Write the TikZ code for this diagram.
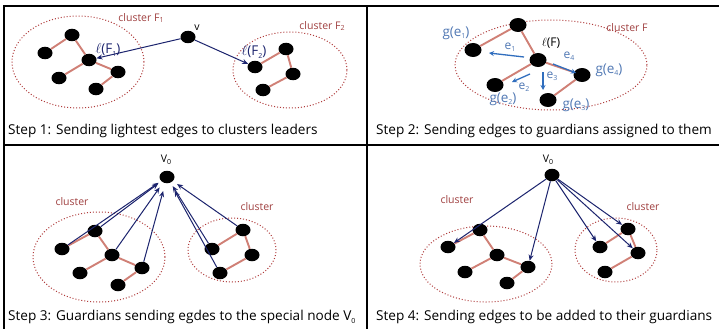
\documentclass[tikz,border=0pt]{standalone}
\usepackage{fontspec}
\setmainfont{Open Sans}
\usetikzlibrary{shapes.geometric,arrows.meta}
\definecolor{treec}{RGB}{208,128,118}
\definecolor{clusc}{RGB}{176,60,60}
\definecolor{labc}{RGB}{160,64,64}
\definecolor{navyc}{RGB}{28,36,110}
\definecolor{bluec}{RGB}{48,110,190}
\definecolor{glab}{RGB}{80,120,180}
\newcommand{\mysb}[1]{\raisebox{-0.35ex}{\scriptsize #1}}
\tikzset{
  vtx/.style={ellipse, fill=black, minimum width=15pt, minimum height=12.5pt, inner sep=0pt},
  bigvtx/.style={ellipse, fill=black, minimum width=17pt, minimum height=14pt, inner sep=0pt},
  tree/.style={draw=treec, line width=1.9pt},
  clus/.style={ellipse, draw=clusc, dotted, line width=1pt, inner sep=0pt},
  clab/.style={text=labc, font=\fontsize{10.5}{12}\selectfont, inner sep=0pt},
  navy/.style={draw=navyc, line width=1pt, -{Stealth[length=6pt,width=5pt]}},
  bluea/.style={draw=bluec, line width=1.3pt, -{Stealth[length=5pt,width=5pt]}},
  glabel/.style={text=glab, font=\fontsize{13.5}{15}\selectfont, inner sep=0pt},
  elabel/.style={text=glab, font=\fontsize{12}{14}\selectfont, inner sep=0pt},
  steptext/.style={anchor=west, font=\fontsize{13.6}{15}\selectfont, inner sep=0pt},
  grid/.style={draw=black, line width=1.1pt}
}
\begin{document}
\begin{tikzpicture}[x=1pt,y=-1pt]
\useasboundingbox (0,0) rectangle (719,329);
\fill[white] (0,0) rectangle (719,329);
% table grid
\coordinate (tl) at (4,6); \coordinate (tr) at (719,6);
\coordinate (ml) at (4,145); \coordinate (mr) at (719,145);
\coordinate (bl) at (4,329); \coordinate (vt) at (367,6); \coordinate (vb) at (367,329);
\draw[grid] (tr) -- (tl) -- (bl);
\draw[grid] (ml) -- (mr);
\draw[grid] (vt) -- (vb);

% ---------------- Panel 1 ----------------
\node[clus, minimum width=132pt, minimum height=92pt] (c1) at (78,62) {};
\node[clus, minimum width=114pt, minimum height=76pt] (c2) at (290,70) {};
\node[clab] (c1l) at (141,18) {cluster F\mysb{1}};
\node[clab] (c2l) at (322,26) {cluster F\mysb{2}};
\node[vtx] (p1a) at (72,35) {};
\node[vtx] (p1b) at (45,53) {};
\node[vtx] (p1c) at (89,60) {};
\node[vtx] (p1d) at (118,72) {};
\node[vtx] (p1e) at (59,78) {};
\node[vtx] (p1f) at (96,89) {};
\draw[tree] (p1b) -- (p1a) -- (p1c) -- (p1d) -- (p1f);
\draw[tree] (p1c) -- (p1e);
\node[vtx] (p1g) at (255,67) {};
\node[vtx] (p1h) at (286,49) {};
\node[vtx] (p1i) at (293,74) {};
\node[vtx] (p1j) at (263,90) {};
\draw[tree] (p1g) -- (p1h) -- (p1i) -- (p1j);
\node[vtx] (v) at (188,37) {};
\node[inner sep=0pt, font=\fontsize{10.5}{12}\selectfont] (vl) at (197,28) {v};
\node[inner sep=0pt, text=navyc, font=\fontsize{13.5}{15}\selectfont] (lf1) at (108,50) {$\ell$(F\mysb{1})};
\node[inner sep=0pt, text=navyc, font=\fontsize{13.5}{15}\selectfont] (lf2) at (254,52) {$\ell$(F\mysb{2})};
\draw[navy] (v) -- (p1c);
\draw[navy] (v) -- (p1g);
\node[steptext] (s1) at (8,131) {Step 1: Sending lightest edges to clusters leaders};

% ---------------- Panel 2 ----------------
\node[clus, minimum width=192pt, minimum height=90pt] (c3) at (551,65) {};
\node[clab] (c3l) at (627,28) {cluster F};
\node[bigvtx] (q1) at (518,25) {};
\node[bigvtx] (q2) at (473,50) {};
\node[bigvtx] (q3) at (538,60) {};
\node[bigvtx] (q4) at (582,75) {};
\node[bigvtx] (q5) at (495,85) {};
\node[bigvtx] (q6) at (548,100) {};
\draw[tree] (q2) -- (q1) -- (q3) -- (q4) -- (q6);
\draw[tree] (q3) -- (q5);
\coordinate (e1s) at (524,57); \coordinate (e1e) at (489,53);
\coordinate (e4s) at (553,64); \coordinate (e4e) at (576,73);
\coordinate (e2s) at (530,74); \coordinate (e2e) at (512,82);
\coordinate (e3s) at (543,72); \coordinate (e3e) at (543,90);
\draw[bluea] (e1s) -- (e1e);
\draw[bluea] (e4s) -- (e4e);
\draw[bluea] (e2s) -- (e2e);
\draw[bluea] (e3s) -- (e3e);
\node[elabel] (le1) at (510,47) {e\mysb{1}};
\node[elabel] (le4) at (569,56) {e\mysb{4}};
\node[elabel] (le2) at (524,87) {e\mysb{2}};
\node[elabel] (le3) at (552,76) {e\mysb{3}};
\node[glabel] (g1) at (456,33) {g(e\mysb{1})};
\node[inner sep=0pt, font=\fontsize{12}{14}\selectfont] (lf) at (551,43) {$\ell$(F)};
\node[glabel] (g4) at (609,70) {g(e\mysb{4})};
\node[glabel] (g2) at (503,99) {g(e\mysb{2})};
\node[glabel] (g3) at (576,105) {g(e\mysb{3})};
\node[steptext] (s2) at (376,131) {Step 2: Sending edges to guardians assigned to them};

% ---------------- Panel 3 ----------------
\node[clus, minimum width=132pt, minimum height=90pt] (c4) at (99,257) {};
\node[clus, minimum width=88pt, minimum height=64pt] (c5) at (232,250) {};
\node[clab] (c4l) at (72,202) {cluster};
\node[clab] (c5l) at (257,207) {cluster};
\node[vtx] (r1) at (95,231) {};
\node[vtx] (r2) at (62,249) {};
\node[vtx] (r3) at (112,255) {};
\node[vtx] (r4) at (142,268) {};
\node[vtx] (r5) at (80,273) {};
\node[vtx] (r6) at (118,285) {};
\draw[tree] (r2) -- (r1) -- (r3) -- (r4) -- (r6);
\draw[tree] (r3) -- (r5);
\node[vtx] (r7) at (212,249) {};
\node[vtx] (r8) at (243,230) {};
\node[vtx] (r9) at (252,255) {};
\node[vtx] (r10) at (220,273) {};
\draw[tree] (r7) -- (r8) -- (r9) -- (r10);
\node[vtx] (v0a) at (167,177) {};
\node[inner sep=0pt, font=\fontsize{10.5}{12}\selectfont] (v0al) at (166,160) {V\mysb{0}};
\foreach \s/\sh in {r2/3pt,r1/4pt,r3/6pt,r4/8pt,r10/9pt,r7/4pt,r8/5pt} \draw[navy, shorten >=\sh] (\s) -- (v0a);
\node[steptext] (s3) at (8,317) {Step 3: Guardians sending egdes to the special node V\mysb{0}};

% ---------------- Panel 4 ----------------
\node[clus, minimum width=132pt, minimum height=76pt] (c6) at (486,264) {};
\node[clus, minimum width=82pt, minimum height=64pt] (c7) at (616,250) {};
\node[clab] (c6l) at (457,200) {cluster};
\node[clab] (c7l) at (643,207) {cluster};
\node[vtx] (t1) at (480,230) {};
\node[vtx] (t2) at (448,247) {};
\node[vtx] (t3) at (497,255) {};
\node[vtx] (t4) at (528,267) {};
\node[vtx] (t5) at (465,272) {};
\node[vtx] (t6) at (507,283) {};
\draw[tree] (t2) -- (t1) -- (t3) -- (t4) -- (t6);
\draw[tree] (t3) -- (t5);
\node[vtx] (t7) at (600,247) {};
\node[vtx] (t8) at (628,229) {};
\node[vtx] (t9) at (638,253) {};
\node[vtx] (t10) at (605,272) {};
\draw[tree] (t7) -- (t8) -- (t9) -- (t10);
\node[vtx] (v0b) at (552,175) {};
\node[inner sep=0pt, font=\fontsize{10.5}{12}\selectfont] (v0bl) at (548,160) {V\mysb{0}};
\foreach \s in {t2,t4,t7,t9,t8} \draw[navy] (v0b) -- (\s);
\node[steptext] (s4) at (376,317) {Step 4: Sending edges to be added to their guardians};
\end{tikzpicture}
\end{document}
